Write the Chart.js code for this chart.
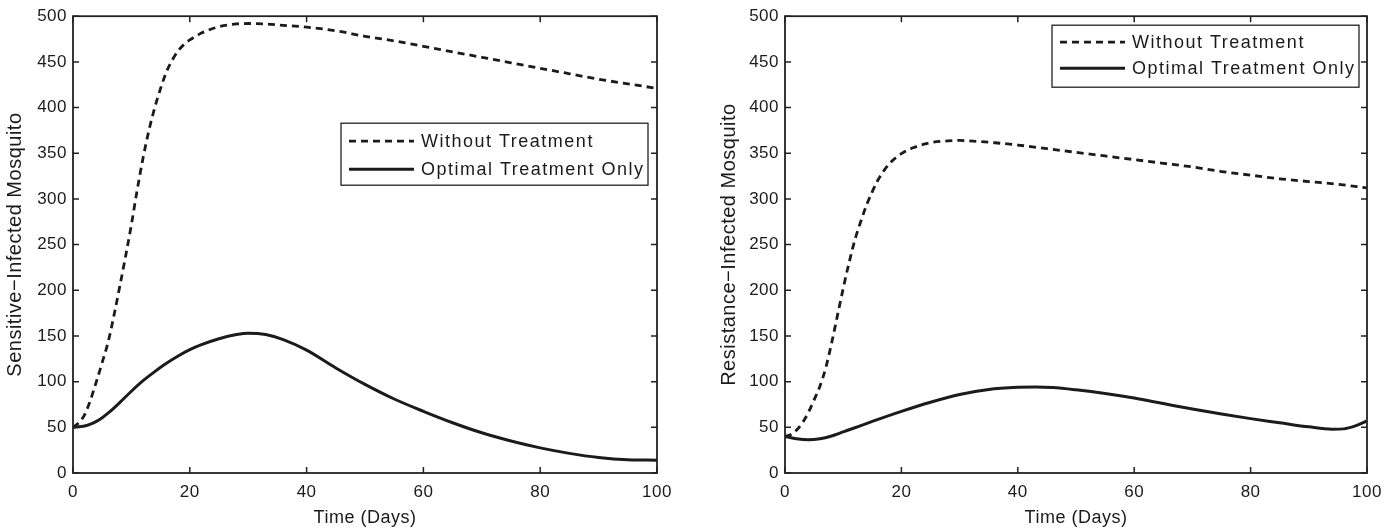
<!DOCTYPE html>
<html>
<head>
<meta charset="utf-8">
<script src="https://cdn.jsdelivr.net/npm/chart.js@4.4.1/dist/chart.umd.min.js"></script>
<style>
  html, body { margin: 0; padding: 0; background: #fff; }
  #wrap { position: relative; width: 1400px; height: 529px; overflow: hidden; }
  canvas { position: absolute; top: 0; }
  #chart-sens { left: 0; }
  #chart-res  { left: 700px; }
</style>
</head>
<body>
<div id="wrap">
  <canvas id="chart-sens" width="700" height="529"></canvas>
  <canvas id="chart-res" width="700" height="529"></canvas>
</div>
<script>
(function () {
  'use strict';

  const INK  = '#1b1b1b';
  const AXIS = '#222222';
  const FONT = '"Liberation Sans", Arial, Helvetica, sans-serif';

  const X_TICKS = [0, 20, 40, 60, 80, 100];
  const Y_TICKS = [0, 50, 100, 150, 200, 250, 300, 350, 400, 450, 500];
  const SERIES_LABELS = ['Without Treatment', 'Optimal Treatment Only'];

  // left panel: sensitive-infected mosquito
  const T_SENS_NONE = [0, 1, 2, 3, 4, 5, 6, 7, 8, 9, 10, 11, 12, 13, 14, 15, 16, 17, 18, 19, 20, 22, 25, 28, 30, 33, 36, 40, 45, 50, 55, 60, 65, 70, 75, 80, 85, 90, 95, 100];
  const V_SENS_NONE = [50, 55, 64, 80, 100, 121, 143, 172, 204, 237, 272, 310, 345, 375, 400, 421, 439, 452, 462, 469, 474, 481.5, 488.5, 491.5, 492, 491.5, 490, 488, 484, 478, 473, 467, 461, 455, 449, 443, 437, 431, 426, 421];
  const T_SENS_OPT  = [0, 2, 3, 4, 5, 6, 7, 8, 10, 12, 14, 16, 18, 20, 22, 25, 28, 30, 33, 36, 40, 45, 50, 55, 60, 65, 70, 75, 80, 85, 90, 95, 100];
  const V_SENS_OPT  = [50, 51.5, 53.5, 56.5, 60.5, 65.5, 71, 77, 89.5, 101, 111, 120, 128, 135, 140.5, 147, 151.5, 153, 151.5, 146, 134.5, 115, 97, 81, 67.5, 55, 44, 35, 27.5, 21.5, 17, 14.5, 14];

  // right panel: resistance-infected mosquito
  const T_RES_NONE = [0, 1, 2, 3, 4, 5, 6, 7, 8, 9, 10, 11, 12, 13, 14, 15, 16, 17, 18, 20, 22, 25, 28, 30, 33, 36, 40, 45, 50, 55, 60, 65, 70, 75, 80, 85, 90, 95, 100];
  const V_RES_NONE = [40, 42, 47, 55, 66, 80, 95, 115, 142, 172, 202, 230, 255, 275, 293, 308, 321, 331, 339, 349.5, 356, 361.5, 363.5, 364, 363, 361.5, 359, 355, 351, 347, 343, 339, 335, 330, 326, 322, 319, 316, 312];
  const T_RES_OPT  = [0, 2, 4, 6, 8, 10, 12, 15, 20, 25, 30, 35, 40, 43, 46, 50, 55, 60, 65, 70, 75, 80, 85, 90, 94, 96, 98, 100];
  const V_RES_OPT  = [40, 37.5, 36.5, 37.5, 40.5, 45, 49.5, 56.5, 67.5, 77.5, 86, 91.5, 93.8, 94.2, 93.5, 91, 87, 82, 76, 70, 64.5, 59.5, 55, 50.5, 48, 48.3, 51.5, 57];

  function pts(ts, vs) {
    return ts.map((t, i) => ({ x: t, y: vs[i] }));
  }

  function series(ts, vs, label, dashed) {
    return {
      label: label,
      data: pts(ts, vs),
      borderColor: INK,
      borderWidth: dashed ? 2.8 : 3,
      borderDash: dashed ? [7, 5] : [],
      pointRadius: 0,
      cubicInterpolationMode: 'monotone',
      fill: false,
    };
  }

  // MATLAB style box with inward ticks on all four sides
  const framePlugin = {
    id: 'frame',
    afterDatasetsDraw(chart) {
      const { ctx, chartArea: a, scales: { x, y } } = chart;
      const len = 6;
      ctx.save();
      ctx.strokeStyle = AXIS;
      ctx.lineWidth = 1.5;
      ctx.beginPath();
      x.ticks.forEach(t => {
        const px = x.getPixelForValue(t.value);
        ctx.moveTo(px, a.bottom); ctx.lineTo(px, a.bottom - len);
        ctx.moveTo(px, a.top);    ctx.lineTo(px, a.top + len);
      });
      y.ticks.forEach(t => {
        const py = y.getPixelForValue(t.value);
        ctx.moveTo(a.left, py);  ctx.lineTo(a.left + len, py);
        ctx.moveTo(a.right, py); ctx.lineTo(a.right - len, py);
      });
      ctx.stroke();
      ctx.lineWidth = 1.8;
      ctx.strokeRect(a.left, a.top, a.right - a.left, a.bottom - a.top);
      ctx.restore();
    },
  };

  const spacingPlugin = {
    id: 'spacing',
    beforeDraw(chart) { chart.ctx.letterSpacing = '0.5px'; },
    afterDraw(chart)  { chart.ctx.letterSpacing = '0px'; },
  };

  const boxLegend = {
    id: 'boxLegend',
    afterDraw(chart, args, o) {
      const { ctx, chartArea: a } = chart;
      const left = a.right - o.right - o.width;
      const top = a.top + o.top;
      ctx.save();
      ctx.fillStyle = '#fff';
      ctx.fillRect(left, top, o.width, o.height);
      ctx.strokeStyle = AXIS;
      ctx.lineWidth = 1.3;
      ctx.strokeRect(left, top, o.width, o.height);
      ctx.font = o.fontSize + 'px ' + FONT;
      ctx.letterSpacing = o.spacing;
      ctx.textBaseline = 'middle';
      ctx.textAlign = 'left';
      chart.data.datasets.forEach((ds, i) => {
        const cy = top + o.rowTop + i * o.rowGap;
        ctx.strokeStyle = ds.borderColor;
        ctx.lineWidth = ds.borderWidth;
        ctx.setLineDash(ds.borderDash);
        ctx.beginPath();
        ctx.moveTo(left + 8, cy);
        ctx.lineTo(left + 73, cy);
        ctx.stroke();
        ctx.setLineDash([]);
        ctx.fillStyle = INK;
        ctx.fillText(ds.label, left + 80, cy + 1);
      });
      ctx.restore();
    },
  };

  function buildChart(id, yTitle, datasets, cfg) {
    const ctx = document.getElementById(id);
    return new Chart(ctx, {
      type: 'line',
      data: { datasets: datasets },
      plugins: [spacingPlugin, framePlugin, boxLegend],
      options: {
        responsive: false,
        animation: false,
        devicePixelRatio: 1,
        layout: { padding: { top: 13, right: cfg.padRight, left: 0, bottom: 0 } },
        scales: {
          x: {
            type: 'linear',
            min: 0,
            max: 100,
            afterBuildTicks: s => { s.ticks = X_TICKS.map(v => ({ value: v })); },
            afterFit: s => { s.height = 56; },
            grid: { display: false, drawTicks: false },
            border: { display: false },
            ticks: { color: INK, padding: 9, maxRotation: 0, font: { family: FONT, size: 17 } },
            title: {
              display: true,
              text: 'Time (Days)',
              color: INK,
              font: { family: FONT, size: 18 },
              padding: { top: 0, bottom: 0 },
            },
          },
          y: {
            type: 'linear',
            min: 0,
            max: 500,
            afterBuildTicks: s => { s.ticks = Y_TICKS.map(v => ({ value: v })); },
            afterFit: s => { s.width = cfg.yWidth; },
            grid: { display: false, drawTicks: false },
            border: { display: false },
            ticks: { color: INK, padding: 6, font: { family: FONT, size: 17 } },
            title: {
              display: true,
              text: yTitle,
              color: INK,
              font: { family: FONT, size: 20 },
              padding: { top: cfg.titlePad, bottom: 0 },
            },
          },
        },
        plugins: {
          legend: { display: false },
          tooltip: { enabled: false },
          boxLegend: cfg.legend,
        },
      },
    });
  }

  buildChart('chart-sens', 'Sensitive\u2212Infected Mosquito', [
    series(T_SENS_NONE, V_SENS_NONE, SERIES_LABELS[0], true),
    series(T_SENS_OPT, V_SENS_OPT, SERIES_LABELS[1], false),
  ], {
    padRight: 43,
    yWidth: 73,
    titlePad: 3,
    legend: { right: 9, top: 107, width: 307, height: 62, rowTop: 18, rowGap: 28, fontSize: 18, spacing: '1.5px' },
  });

  buildChart('chart-res', 'Resistance\u2212Infected Mosquito', [
    series(T_RES_NONE, V_RES_NONE, SERIES_LABELS[0], true),
    series(T_RES_OPT, V_RES_OPT, SERIES_LABELS[1], false),
  ], {
    padRight: 33,
    yWidth: 85,
    titlePad: 17,
    legend: { right: 8, top: 9, width: 307, height: 62, rowTop: 17, rowGap: 26, fontSize: 18, spacing: '1.5px' },
  });
})();
</script>
</body>
</html>
